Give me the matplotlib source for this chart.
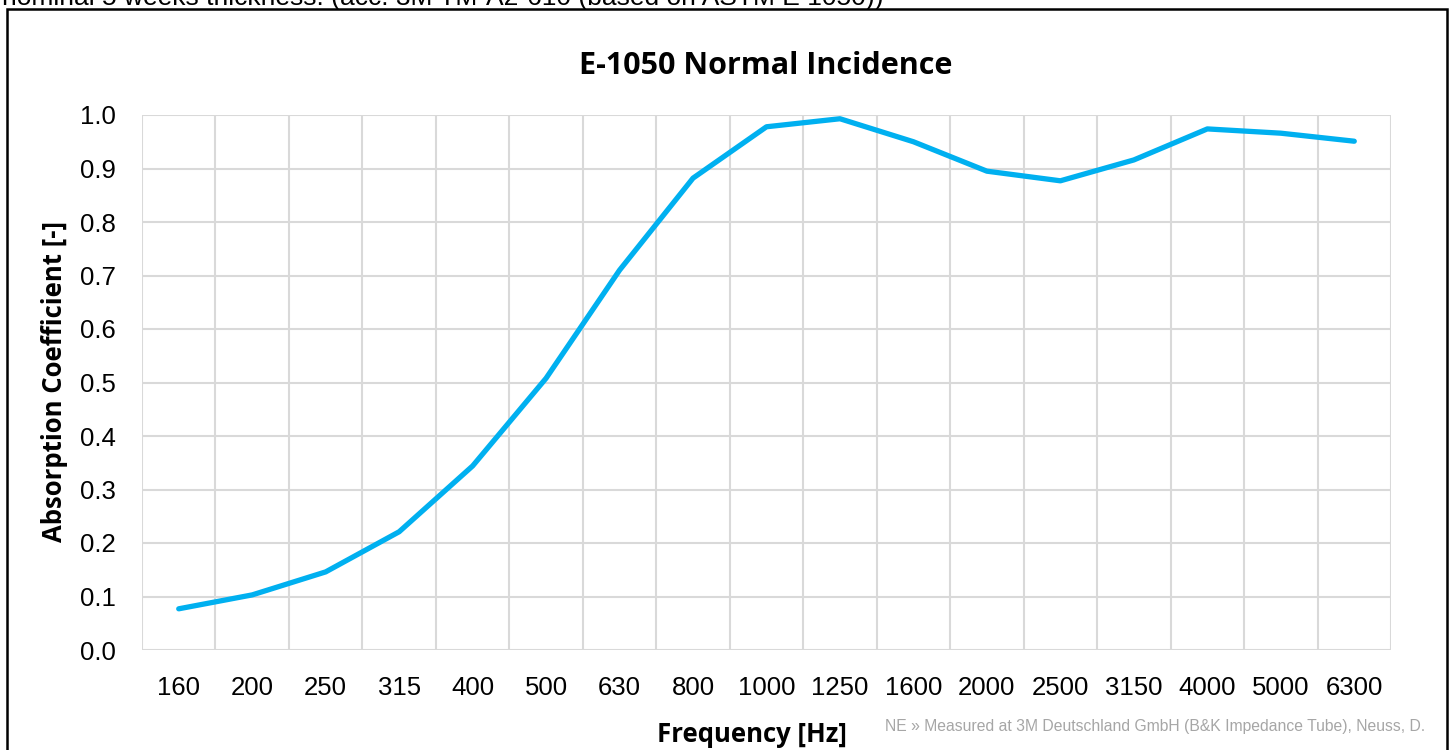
import matplotlib
matplotlib.use('Agg')
import matplotlib.pyplot as plt
from matplotlib.patches import Rectangle
import numpy as np

# Data
freqs = ['160', '200', '250', '315', '400', '500', '630', '800', '1000', '1250',
         '1600', '2000', '2500', '3150', '4000', '5000', '6300']
absorption = [0.077, 0.103, 0.146, 0.221, 0.344, 0.508, 0.710, 0.882, 0.978, 0.993,
              0.950, 0.895, 0.877, 0.916, 0.974, 0.966, 0.951]
y_ticks = [0.0, 0.1, 0.2, 0.3, 0.4, 0.5, 0.6, 0.7, 0.8, 0.9, 1.0]

W, H = 1453, 750
fig = plt.figure(figsize=(W / 100, H / 100), dpi=100)
ax = fig.add_axes([142 / W, 1 - 650 / H, (1391 - 142) / W, (650 - 115) / H])

grid_col = '#d9d9d9'
x = np.arange(len(freqs))

# Grid: vertical lines between categories, horizontal at each tick
for xv in np.arange(-0.5, len(freqs), 1.0):
    ax.axvline(xv, color=grid_col, lw=1.5, zorder=1)
for yv in y_ticks:
    ax.axhline(yv, color=grid_col, lw=1.5, zorder=1)

ax.plot(x, absorption, color='#00b0f0', lw=3.8, solid_capstyle='round',
        solid_joinstyle='round', zorder=3)

ax.set_xlim(-0.5, len(freqs) - 0.5)
ax.set_ylim(0, 1.0)
ax.set_xticks(x)
ax.set_xticklabels(freqs)
ax.set_yticks(y_ticks)
ax.set_yticklabels(['%.1f' % v for v in y_ticks])
ax.tick_params(axis='both', length=0, labelsize=18.5)
ax.tick_params(axis='x', pad=19)
ax.tick_params(axis='y', pad=19)
for lab in ax.get_xticklabels() + ax.get_yticklabels():
    lab.set_fontfamily('Liberation Sans')
for s in ax.spines.values():
    s.set_visible(False)

# Titles and labels
fig.text(766 / W, 1 - 66 / H, 'E-1050 Normal Incidence', ha='center', va='center',
         fontsize=22, fontweight='bold', family='Open Sans')
fig.text(55 / W, 1 - 382 / H, 'Absorption Coefficient [-]', ha='center', va='center',
         rotation=90, fontsize=18.5, fontweight='bold', family='Open Sans')
fig.text(752 / W, 1 - 735 / H, 'Frequency [Hz]', ha='center', va='center',
         fontsize=18.5, fontweight='bold', family='Open Sans')
fig.text(1425 / W, 1 - 727 / H,
         'NE \u00bb Measured at 3M Deutschland GmbH (B&K Impedance Tube), Neuss, D.',
         ha='right', va='center', fontsize=11.3, color='#a6a6a6', family='Liberation Sans')

# cut-off note above the frame
fig.text(2 / W, 1 - 5 / H,
         'nominal 5 weeks thickness. (acc. 3M TM-A2-610 (based on ASTM E 1050))',
         ha='left', va='baseline', fontsize=19, color='black', family='Liberation Sans')

# outer frame
fig.patches.append(Rectangle((7 / W, -0.05), (1447 - 7) / W, 1.05 - 9 / H,
                             transform=fig.transFigure, fill=False,
                             edgecolor='black', lw=1.8))

fig.savefig('out.png', dpi=100)
